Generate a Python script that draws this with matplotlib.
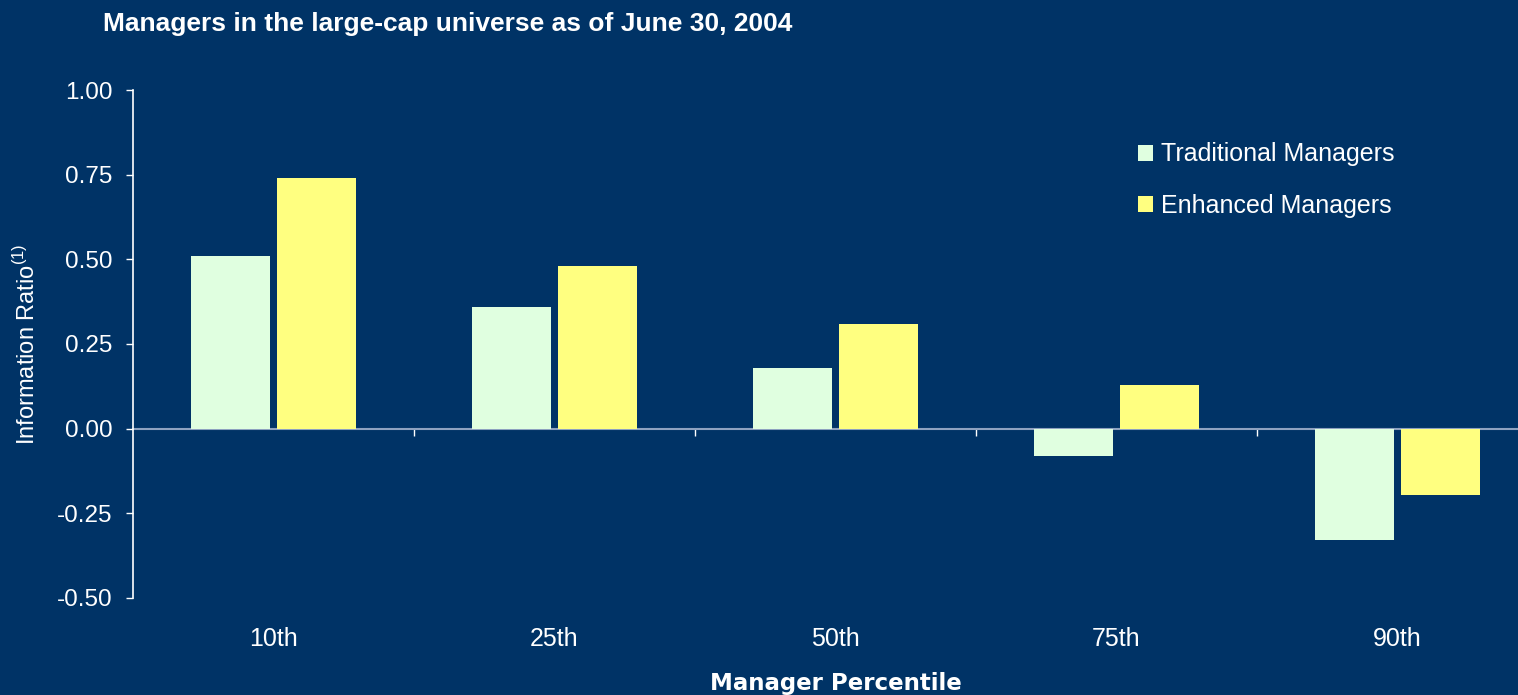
import matplotlib.pyplot as plt
import numpy as np

percentiles = ["10th", "25th", "50th", "75th", "90th"]
traditional = [0.51, 0.36, 0.18, -0.08, -0.33]
enhanced = [0.74, 0.48, 0.31, 0.13, -0.195]

bg = "#003366"
trad_color = "#e0ffe0"
enh_color = "#ffff80"

plt.rcParams["font.family"] = ["Liberation Sans", "DejaVu Sans"]

fig = plt.figure(figsize=(15.18, 6.95), dpi=100, facecolor=bg)
ax = fig.add_axes([0.0876, 0.1396, 0.9256, 0.7309], facecolor=bg)

x = np.arange(len(percentiles))
w = 0.28
ax.bar(x - 0.152, traditional, w, color=trad_color, label="Traditional Managers", zorder=2)
ax.bar(x + 0.152, enhanced, w, color=enh_color, label="Enhanced Managers", zorder=2)

ax.set_xlim(-0.5, 4.5)
ax.set_ylim(-0.5, 1.0)
yt = np.arange(-0.5, 1.01, 0.25)
ax.set_yticks(yt)
ax.set_yticklabels(["%.2f" % v for v in yt])

for s in ["top", "right", "bottom"]:
    ax.spines[s].set_visible(False)
ax.spines["left"].set_color("white")
ax.spines["left"].set_linewidth(1.2)
ax.tick_params(axis="y", colors="white", labelcolor="white", labelsize=17.5,
               length=5, width=1, pad=10, direction="out")

# category labels along the bottom, no tick marks
ax.set_xticks(x)
ax.set_xticklabels(percentiles)
ax.tick_params(axis="x", length=0, labelsize=18, labelcolor="white", pad=21)

# zero line with tick marks between categories
zero = ax.secondary_xaxis(1 / 3)
zero.set_xticks(np.arange(0.5, 4.5, 1.0))
zero.set_xticklabels([])
zero.spines["bottom"].set_color("#8ea2c0")
zero.spines["bottom"].set_linewidth(1.5)
zero.tick_params(axis="x", colors="white", length=5, width=1, direction="out")

ax.set_xlabel("Manager Percentile", fontsize=16.5, fontweight="bold", color="white",
              family="DejaVu Sans", labelpad=15)
ax.set_ylabel(r"Information Ratio$^{\mathregular{(1)}}$", fontsize=17, color="white")
ax.yaxis.set_label_coords(-0.066, 0.5)

leg = ax.legend(loc="upper left", bbox_to_anchor=(0.6996, 0.941), frameon=False,
                fontsize=18, labelcolor="white", handlelength=0.6, handleheight=0.6,
                handletextpad=0.3, labelspacing=1.1)

fig.text(103 / 1518, 1 - 24 / 695, "Managers in the large-cap universe as of June 30, 2004",
         fontsize=19, fontweight="bold", color="white", va="center", ha="left")

fig.savefig("out.png", dpi=100, facecolor=bg)
